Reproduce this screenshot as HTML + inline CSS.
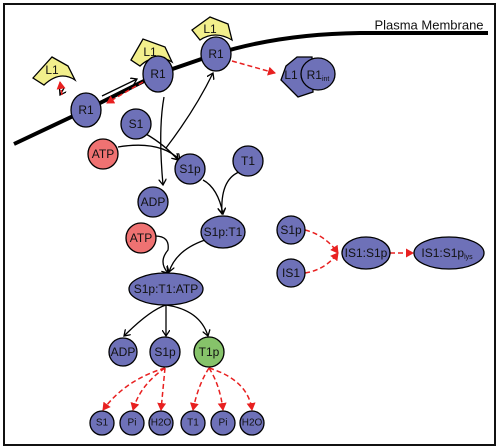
<!DOCTYPE html>
<html><head><meta charset="utf-8"><style>
html,body{margin:0;padding:0;background:#fff}
svg{display:block}
text{font-family:"Liberation Sans",Arial,sans-serif;font-size:12px;fill:#111;text-anchor:middle;dominant-baseline:central}
</style></head><body>
<svg width="500" height="448" viewBox="0 0 500 448">
<defs>
<marker id="ab" markerWidth="8" markerHeight="8" refX="6" refY="4" orient="auto" markerUnits="userSpaceOnUse"><path d="M0,0 L6,4 L0,8" fill="none" stroke="#000" stroke-width="1.3"/></marker>
<marker id="ar" markerWidth="9" markerHeight="9" refX="7" refY="4.5" orient="auto" markerUnits="userSpaceOnUse"><path d="M0,0 L8,4.5 L0,9 Z" fill="#e82020"/></marker>
</defs>
<rect x="4" y="4" width="491" height="441" fill="#fff" stroke="#111" stroke-width="2"/>
<path d="M14,144 L86,110 L158,74 L216,54 Q280,34 360,33 L488,33" fill="none" stroke="#000" stroke-width="4"/>
<text x="429" y="25" style="font-size:13px">Plasma Membrane</text>
<g fill="#f2ef8c" stroke="#000" stroke-width="1.3">
<path d="M33,78 L52,57 L68,66 L75,80 Q60,70 44,85 Z"/>
<path d="M131,60 L143,39 L165,47 L172,62 Q155,52 140,66 Z"/>
<path d="M192,30 L210,17 L228,24 L232,40 Q215,30 200,40 Z"/>
</g>
<text x="52" y="70">L1</text><text x="150" y="52">L1</text><text x="210" y="29">L1</text>
<g fill="none" stroke="#000" stroke-width="1.3" marker-end="url(#ab)">
<path d="M64,88 L60,95"/>
<path d="M102,96 L137,79"/>
<path d="M164,97 Q158,130 163,185"/>
<path d="M166,148 Q195,110 213,73"/>
<path d="M118,147 Q160,140 180,160"/>
<path d="M146,134 Q165,145 178,160"/>
<path d="M203,180 Q218,188 223,214"/>
<path d="M239,172 Q220,180 222,214"/>
<path d="M155,236 Q170,236 168,250 Q158,262 168,273"/>
<path d="M205,240 Q176,250 169,272"/>
<path d="M166,305 Q150,310 124,336"/>
<path d="M166,305 L166,336"/>
<path d="M166,305 Q200,310 208,336"/>
</g>
<g fill="none" stroke="#e82020" stroke-width="1.5" stroke-dasharray="5,3" marker-end="url(#ar)">
<path d="M62,95 L60,82"/>
<path d="M143,82 L107,103"/>
<path d="M232,61 L275,73"/>
<path d="M165,368 Q125,380 103,410"/>
<path d="M165,368 Q140,385 133,410"/>
<path d="M165,368 L161,410"/>
<path d="M209,368 Q198,385 193,410"/>
<path d="M209,368 Q220,385 223,410"/>
<path d="M209,368 Q248,380 252,410"/>
<path d="M305,230 Q325,235 338,253"/>
<path d="M305,273 Q325,270 338,253"/>
<path d="M390,253 L413,253"/>
</g>
<path d="M286,66 L297,57 L312,57 L313,92 L298,97 L281,80 Z" fill="#6e71b8" stroke="#000" stroke-width="1.3"/>
<ellipse cx="318" cy="74" rx="17" ry="16" fill="#6e71b8" stroke="#000" stroke-width="1.3"/>
<text x="291" y="75">L1</text><text x="318" y="75">R1<tspan style="font-size:7px" dy="4">int</tspan></text>
<g fill="#6e71b8" stroke="#000" stroke-width="1.3">
<ellipse cx="86" cy="110" rx="15" ry="17"/>
<ellipse cx="158" cy="74" rx="15" ry="18"/>
<ellipse cx="216" cy="54" rx="15" ry="17"/>
<circle cx="136" cy="124" r="15"/>
<circle cx="190" cy="169" r="15"/>
<circle cx="248" cy="161" r="15"/>
<circle cx="153" cy="202" r="15"/>
<ellipse cx="223" cy="232" rx="22" ry="16"/>
<ellipse cx="166" cy="289" rx="37" ry="16"/>
<circle cx="123" cy="352" r="14"/>
<circle cx="165" cy="352" r="15"/>
<circle cx="102" cy="423" r="12"/><circle cx="132" cy="423" r="12"/><circle cx="161" cy="423" r="12"/>
<circle cx="193" cy="423" r="12"/><circle cx="223" cy="423" r="12"/><circle cx="252" cy="423" r="12"/>
<circle cx="291" cy="230" r="14"/><circle cx="291" cy="273" r="14"/>
<ellipse cx="366" cy="253" rx="24" ry="16"/>
<ellipse cx="449" cy="253" rx="35" ry="16"/>
</g>
<g fill="#ef7272" stroke="#000" stroke-width="1.3">
<circle cx="103" cy="154" r="15"/><circle cx="141" cy="238" r="15"/>
</g>
<circle cx="209" cy="352" r="15" fill="#86c36a" stroke="#000" stroke-width="1.3"/>
<text x="86" y="110">R1</text><text x="158" y="74">R1</text><text x="216" y="54">R1</text>
<text x="136" y="124">S1</text><text x="103" y="154">ATP</text><text x="190" y="169">S1p</text>
<text x="248" y="161">T1</text><text x="153" y="202">ADP</text><text x="141" y="238">ATP</text>
<text x="223" y="232">S1p:T1</text><text x="166" y="289">S1p:T1:ATP</text>
<text x="123" y="352">ADP</text><text x="165" y="352">S1p</text><text x="209" y="352">T1p</text>
<text x="102" y="423" style="font-size:10px">S1</text><text x="132" y="423" style="font-size:10px">Pi</text><text x="161" y="423" style="font-size:10px">H2O</text>
<text x="193" y="423" style="font-size:10px">T1</text><text x="223" y="423" style="font-size:10px">Pi</text><text x="252" y="423" style="font-size:10px">H2O</text>
<text x="291" y="230">S1p</text><text x="291" y="273">IS1</text>
<text x="366" y="253">IS1:S1p</text>
<text x="447" y="253">IS1:S1p<tspan style="font-size:7px" dy="4">lys</tspan></text>
</svg>
</body></html>
